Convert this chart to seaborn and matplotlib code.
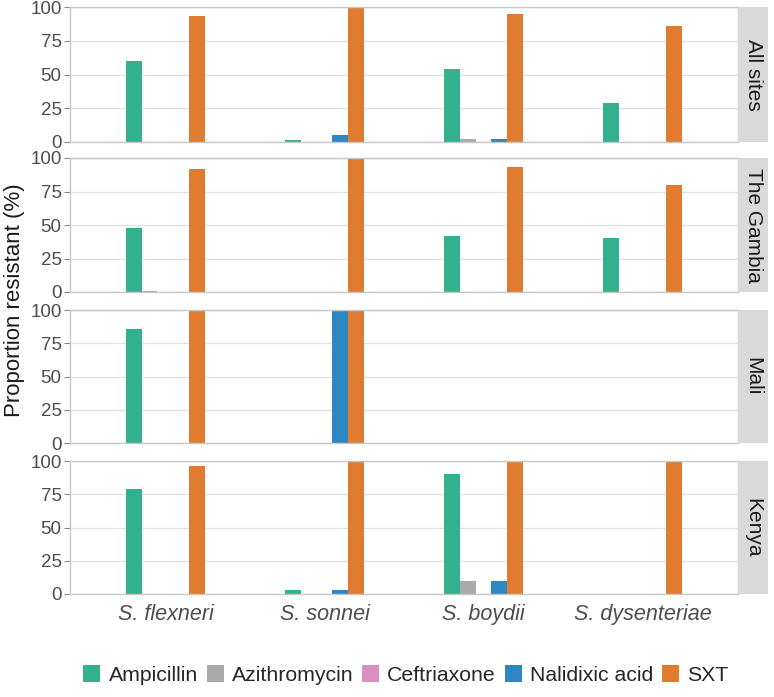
import matplotlib
matplotlib.use("Agg")
import matplotlib.pyplot as plt
from matplotlib.patches import Patch
import numpy as np
import pandas as pd
import seaborn as sns

# data
sites = ["All sites", "The Gambia", "Mali", "Kenya"]
species = ["S. flexneri", "S. sonnei", "S. boydii", "S. dysenteriae"]
antibiotics = ["Ampicillin", "Azithromycin", "Ceftriaxone", "Nalidixic acid", "SXT"]
colors = ["#33B08D", "#AAAAAA", "#D98FC0", "#2E87C2", "#E07B30"]

# rows = species, cols = antibiotics
all_sites = [[60, 0, 0, 0, 93],
             [1.5, 0, 0, 5, 100],
             [54, 2.5, 0, 2.5, 95],
             [29, 0, 0, 0, 86]]
gambia = [[48, 0.6, 0, 0, 92],
          [0, 0, 0, 0, 100],
          [42, 0, 0, 0, 93],
          [40, 0, 0, 0, 80]]
mali = [[86, 0, 0, 0, 100],
        [0, 0, 0, 100, 100],
        [0, 0, 0, 0, 0],
        [0, 0, 0, 0, 0]]
kenya = [[79, 0, 0, 0, 96],
         [3, 0, 0, 3, 100],
         [90, 10, 0, 10, 100],
         [0, 0, 0, 0, 100]]

rows = []
for site, tab in zip(sites, [all_sites, gambia, mali, kenya]):
    for sp, vals in zip(species, tab):
        for ab, v in zip(antibiotics, vals):
            rows.append({"site": site, "species": sp, "antibiotic": ab, "value": v})
df = pd.DataFrame(rows)

sns.set_style("white")
plt.rcParams["font.family"] = ["Liberation Sans", "DejaVu Sans"]

W, H = 774, 697
fig = plt.figure(figsize=(W / 100, H / 100), dpi=100)

panels = [(7, 142), (158, 292), (310, 443), (461, 594)]
x0, x1, s1 = 70, 738, 768

for i, (site, (top, bot)) in enumerate(zip(sites, panels)):
    ax = fig.add_axes([x0 / W, 1 - bot / H, (x1 - x0) / W, (bot - top) / H])
    sub = df[df["site"] == site]
    sns.barplot(data=sub, x="species", y="value", hue="antibiotic",
                order=species, hue_order=antibiotics, palette=colors,
                width=0.5, gap=0, saturation=1, linewidth=0, ax=ax,
                legend=False, errorbar=None)
    ax.set_xlim(-0.6, 3.6)
    ax.set_ylim(0, 100)
    ax.set_yticks([0, 25, 50, 75, 100])
    ax.yaxis.grid(True, color="#E3E3E3", linewidth=1)
    ax.set_axisbelow(True)
    ax.set_xlabel("")
    ax.set_ylabel("")
    for sp in ax.spines.values():
        sp.set_color("#C8C8C8")
        sp.set_linewidth(1)
    ax.tick_params(axis="y", left=True, length=4, color="#888888",
                   labelsize=13.5, labelcolor="#4D4D4D", pad=2)
    if i < 3:
        ax.set_xticklabels([])
        ax.tick_params(axis="x", bottom=False)
    else:
        ax.tick_params(axis="x", bottom=False, labelsize=15.5,
                       labelcolor="#4D4D4D", pad=4)
        for t in ax.get_xticklabels():
            t.set_fontstyle("italic")

    sax = fig.add_axes([x1 / W, 1 - bot / H, (s1 - x1) / W, (bot - top) / H])
    sax.set_facecolor("#D9D9D9")
    sax.set_xticks([])
    sax.set_yticks([])
    for sp in sax.spines.values():
        sp.set_visible(False)
    sax.text(0.5, 0.5, site, rotation=-90, ha="center", va="center",
             fontsize=15, color="#1A1A1A", transform=sax.transAxes)

fig.text(15 / W, 1 - 300 / H, "Proportion resistant (%)", rotation=90,
         ha="center", va="center", fontsize=16, color="#1A1A1A")

handles = [Patch(facecolor=c, edgecolor="none", label=a)
           for c, a in zip(colors, antibiotics)]
fig.legend(handles=handles, loc="center", bbox_to_anchor=(406 / W, 1 - 675 / H),
           ncol=5, frameon=False, fontsize=15.3, handlelength=0.8, handleheight=0.85,
           handletextpad=0.38, columnspacing=0.42, borderpad=0, borderaxespad=0)

fig.savefig("out.png", dpi=100)
